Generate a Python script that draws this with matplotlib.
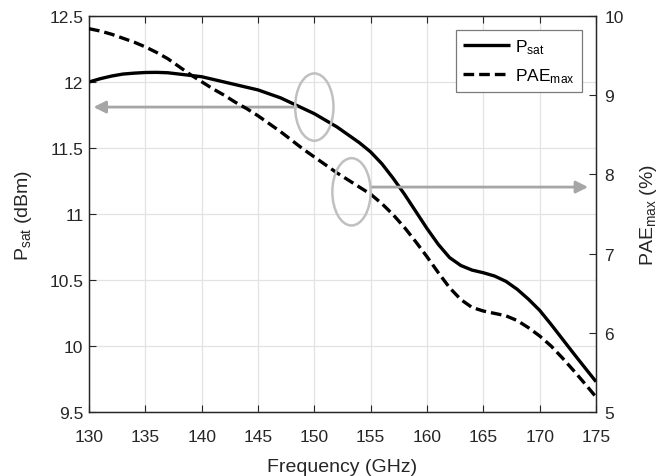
import matplotlib
matplotlib.use("Agg")
import matplotlib.pyplot as plt
from matplotlib.patches import Ellipse

plt.rcParams['font.family'] = ['Liberation Sans', 'DejaVu Sans']
plt.rcParams['mathtext.default'] = 'regular'

freq = [130, 131, 132, 133, 134, 135, 136, 137, 138, 139, 140,
        141, 142, 143, 144, 145, 146, 147, 148, 149, 150,
        151, 152, 153, 154, 155, 156, 157, 158, 159, 160,
        161, 162, 163, 164, 165, 166, 167, 168, 169, 170,
        171, 172, 173, 174, 175]
psat = [12.00, 12.025, 12.045, 12.06, 12.067, 12.072, 12.073, 12.07, 12.06, 12.05, 12.04,
        12.02, 12.00, 11.98, 11.96, 11.94, 11.91, 11.88, 11.84, 11.80, 11.76,
        11.71, 11.66, 11.60, 11.54, 11.47, 11.38, 11.27, 11.15, 11.02, 10.89,
        10.77, 10.67, 10.61, 10.575, 10.555, 10.53, 10.49, 10.43, 10.355, 10.27,
        10.165, 10.055, 9.945, 9.837, 9.73]
pae = [9.84, 9.81, 9.77, 9.72, 9.67, 9.61, 9.54, 9.46, 9.36, 9.26, 9.17,
       9.08, 9.00, 8.91, 8.83, 8.74, 8.64, 8.54, 8.43, 8.32, 8.22,
       8.12, 8.02, 7.93, 7.84, 7.75, 7.63, 7.49, 7.33, 7.15, 6.96,
       6.76, 6.57, 6.42, 6.32, 6.275, 6.245, 6.215, 6.155, 6.065, 5.96,
       5.835, 5.685, 5.525, 5.36, 5.19]

xticks = [130, 135, 140, 145, 150, 155, 160, 165, 170, 175]
yticks_left = [9.5, 10, 10.5, 11, 11.5, 12, 12.5]
yticks_right = [5, 6, 7, 8, 9, 10]

fig = plt.figure(figsize=(6.58, 4.77), dpi=100)
ax = fig.add_axes([89/658, 64/477, (596-89)/658, (413-17)/477])
ax2 = ax.twinx()

ax.set_xlim(130, 175)
ax.set_ylim(9.5, 12.5)
ax2.set_ylim(5, 10)
ax.set_xticks(xticks)
ax.set_xticklabels([str(t) for t in xticks])
ax.set_yticks(yticks_left)
ax.set_yticklabels(['9.5', '10', '10.5', '11', '11.5', '12', '12.5'])
ax2.set_yticks(yticks_right)

ax.grid(True, color='#e3e3e3', lw=0.9)
ax.set_axisbelow(True)

for a in (ax, ax2):
    a.tick_params(direction='in', length=5, width=0.8, labelsize=12.5, colors='#262626')
    for s in a.spines.values():
        s.set_color('#262626')
        s.set_linewidth(0.9)
ax.tick_params(axis='x', top=True, pad=12)
ax.tick_params(axis='y', pad=4)
ax2.tick_params(axis='y', pad=6)

l1, = ax.plot(freq, psat, color='black', lw=2.4, solid_capstyle='butt',
              solid_joinstyle='round', label='P$_{sat}$', zorder=3)
l2, = ax2.plot(freq, pae, color='black', lw=2.4, linestyle=(0, (3.2, 1.5)),
               label='PAE$_{max}$', zorder=3)

# annotations
gray_arrow = '#a6a6a6'
gray_ell = '#c0c0c0'
ax.annotate('', xy=(130.4, 11.81), xytext=(148.4, 11.81),
            arrowprops=dict(arrowstyle='-|>', color=gray_arrow, lw=2, mutation_scale=18,
                            shrinkA=0, shrinkB=0))
ax.add_patch(Ellipse((150.0, 11.81), 3.4, 0.51, fill=False, edgecolor=gray_ell, lw=1.8, zorder=4))
ax2.annotate('', xy=(174.3, 7.84), xytext=(155.1, 7.84),
             arrowprops=dict(arrowstyle='-|>', color=gray_arrow, lw=2, mutation_scale=18,
                             shrinkA=0, shrinkB=0))
ax2.add_patch(Ellipse((153.3, 7.78), 3.4, 0.85, fill=False, edgecolor=gray_ell, lw=1.8, zorder=4))

ax.set_xlabel('Frequency (GHz)', fontsize=14, color='#262626', labelpad=10)
ax.set_ylabel('P$_{sat}$ (dBm)', fontsize=14, color='#262626', labelpad=11)
ax2.set_ylabel('PAE$_{max}$ (%)', fontsize=14, color='#262626', labelpad=10)

leg = ax2.legend([l1, l2], ['P$_{sat}$', 'PAE$_{max}$'], loc='upper right',
                 fontsize=12.5, frameon=True, fancybox=False, framealpha=1,
                 edgecolor='#7a7a7a', handlelength=2.7, borderaxespad=0.8,
                 labelspacing=0.6, borderpad=0.4, handletextpad=0.3)
leg.get_frame().set_linewidth(0.9)

fig.savefig('out.png', dpi=100)
